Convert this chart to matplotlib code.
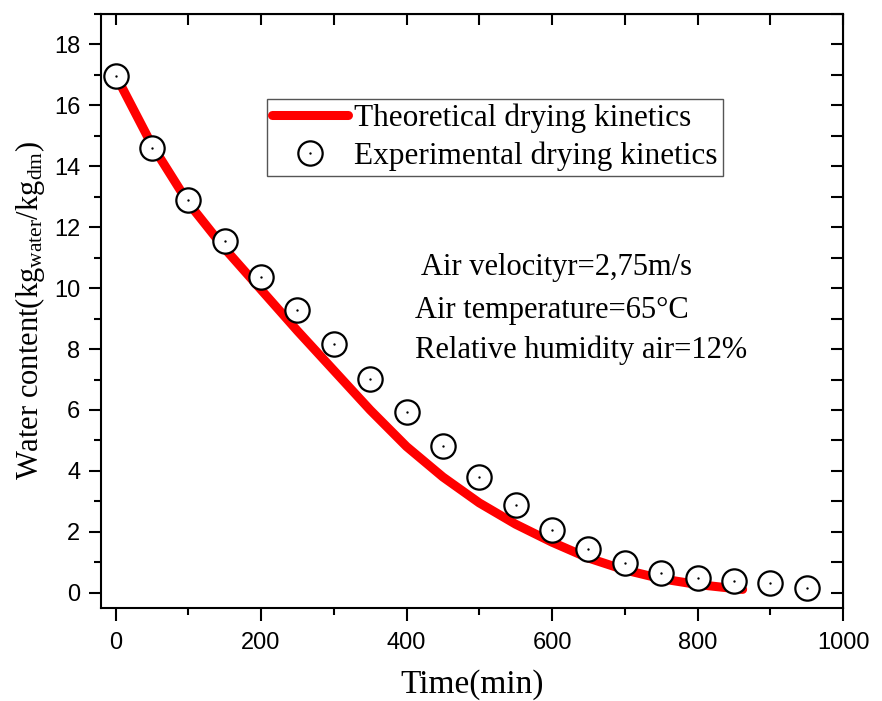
import numpy as np
import matplotlib
matplotlib.use("Agg")
import matplotlib.pyplot as plt
from matplotlib.ticker import MultipleLocator

# experimental points (time in min, water content)
t_exp = [0, 50, 100, 150, 200, 250, 300, 350, 400, 450,
         500, 550, 600, 650, 700, 750, 800, 850, 900, 950]
x_exp = [16.97, 14.6, 12.89, 11.55, 10.37, 9.27, 8.18, 7.03, 5.92, 4.81,
         3.79, 2.87, 2.05, 1.43, 0.97, 0.66, 0.48, 0.39, 0.31, 0.16]

# theoretical curve
t_th = [0, 50, 100, 150, 200, 250, 300, 350, 400, 450,
        500, 550, 600, 650, 700, 750, 800, 850, 862]
x_th = [17.0, 14.7, 12.8, 11.3, 9.95, 8.6, 7.3, 6.0, 4.8, 3.8,
        2.95, 2.25, 1.66, 1.14, 0.75, 0.46, 0.27, 0.14, 0.11]

plt.rcParams['mathtext.fontset'] = 'custom'
plt.rcParams['mathtext.rm'] = 'Liberation Serif'
plt.rcParams['mathtext.it'] = 'Liberation Serif:italic'

fig = plt.figure(figsize=(8.82, 7.01), dpi=100)
ax = fig.add_axes([0.1145, 0.1327, 0.8413, 0.8473])

line, = ax.plot(t_th, x_th, color='red', lw=6.5, solid_capstyle='round',
                solid_joinstyle='round', zorder=2)
circ, = ax.plot(t_exp, x_exp, ls='none', marker='o', ms=17.5, mfc='white',
                mec='black', mew=1.6, zorder=3)
dot, = ax.plot(t_exp, x_exp, ls='none', marker='o', ms=1.7, mfc='black',
               mec='black', mew=0, zorder=4)

ax.set_xlim(-20, 1000)
ax.set_ylim(-0.5, 19)
ax.xaxis.set_major_locator(MultipleLocator(200))
ax.xaxis.set_minor_locator(MultipleLocator(100))
ax.yaxis.set_major_locator(MultipleLocator(2))
ax.yaxis.set_minor_locator(MultipleLocator(1))

for s in ax.spines.values():
    s.set_linewidth(1.5)
ax.tick_params(which='major', direction='out', length=9, width=1.5,
               labelsize=17, pad=6)
ax.tick_params(axis='x', which='major', pad=8)
ax.tick_params(which='minor', direction='out', length=5, width=1.5)
for lab in ax.get_xticklabels() + ax.get_yticklabels():
    lab.set_fontfamily('Liberation Sans')

# mirrored ticks on top and right, pointing inwards
top = ax.secondary_xaxis('top')
top.xaxis.set_major_locator(MultipleLocator(100))
top.tick_params(direction='in', length=8, width=1.5, labeltop=False)
right = ax.secondary_yaxis('right')
right.yaxis.set_major_locator(MultipleLocator(1))
right.tick_params(direction='in', length=9, width=1.5, labelright=False)

ax.set_xlabel('Time(min)', fontfamily='Liberation Serif', fontsize=24, labelpad=11)
ax.set_ylabel(r'Water content(kg$_{\mathrm{water}}$/kg$_{\mathrm{dm}}$)',
              fontfamily='Liberation Serif', fontsize=22, labelpad=5)

leg = ax.legend([line, (circ, dot)],
                ['Theoretical drying kinetics', 'Experimental drying kinetics'],
                loc='upper left', bbox_to_anchor=(0.2237, 0.857), borderaxespad=0,
                prop={'family': 'Liberation Serif', 'size': 22.5},
                handlelength=2.45, handletextpad=0.2, borderpad=0.15,
                labelspacing=0.28, fancybox=False, framealpha=1)
leg.get_frame().set_edgecolor('#555555')
leg.get_frame().set_linewidth(1.0)

ax.text(420, 10.44, 'Air velocityr=2,75m/s', fontfamily='Liberation Serif', fontsize=22)
ax.text(411, 9.03, 'Air temperature=65\u00b0C', fontfamily='Liberation Serif', fontsize=22)
ax.text(411, 7.72, 'Relative humidity air=12%', fontfamily='Liberation Serif', fontsize=22)

fig.savefig('out.png', dpi=100)
